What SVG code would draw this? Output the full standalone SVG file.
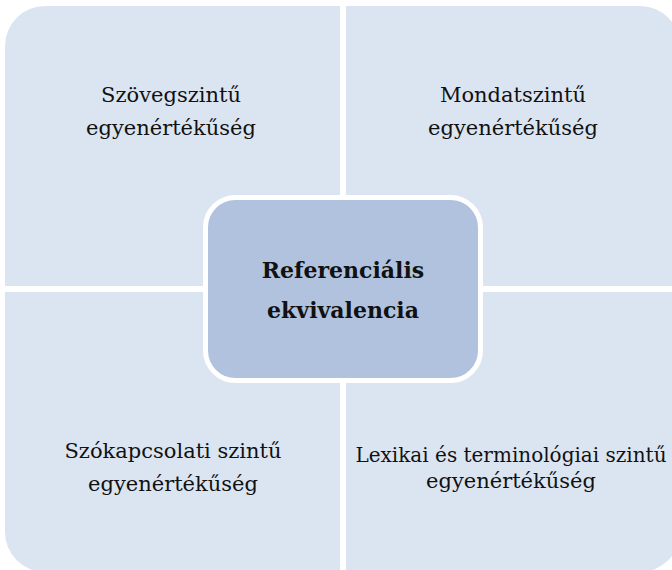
<svg xmlns="http://www.w3.org/2000/svg" width="672" height="570" viewBox="0 0 672 570">
<style>
.q{fill:#dbe5f1}
.t{font-family:"DejaVu Serif","Liberation Serif",serif;font-size:21px;fill:#111;text-anchor:middle}
.c{font-family:"DejaVu Serif","Liberation Serif",serif;font-size:22px;font-weight:bold;fill:#111;text-anchor:middle}
</style>
<rect width="672" height="570" fill="#ffffff"/>
<g id="q-tl">
<path class="q" d="M5,46 A40,40 0 0 1 45,6 L340,6 L340,286 L5,286 Z"/>
<text class="t" x="171" y="102">Szövegszintű</text>
<text class="t" x="171" y="135">egyenértékűség</text>
</g>
<g id="q-tr">
<path class="q" d="M346,6 L640,6 A40,40 0 0 1 680,46 L680,286 L346,286 Z"/>
<text class="t" x="513" y="102">Mondatszintű</text>
<text class="t" x="513" y="135">egyenértékűség</text>
</g>
<g id="q-bl">
<path class="q" d="M5,292 L340,292 L340,572 L45,572 A40,40 0 0 1 5,532 Z"/>
<text class="t" x="173" y="458">Szókapcsolati szintű</text>
<text class="t" x="173" y="491">egyenértékűség</text>
</g>
<g id="q-br">
<path class="q" d="M346,292 L680,292 L680,532 A40,40 0 0 1 640,572 L346,572 Z"/>
<text class="t" x="511" y="462" style="font-size:20px">Lexikai és terminológiai szintű</text>
<text class="t" x="511" y="488">egyenértékűség</text>
</g>
<g id="connectors"></g>
<g id="center">
<rect x="205.5" y="197.5" width="275" height="183" rx="30" ry="30" fill="#b0c2de" stroke="#ffffff" stroke-width="5"/>
<text class="c" x="343" y="278">Referenciális</text>
<text class="c" x="343" y="318">ekvivalencia</text>
</g>
</svg>
